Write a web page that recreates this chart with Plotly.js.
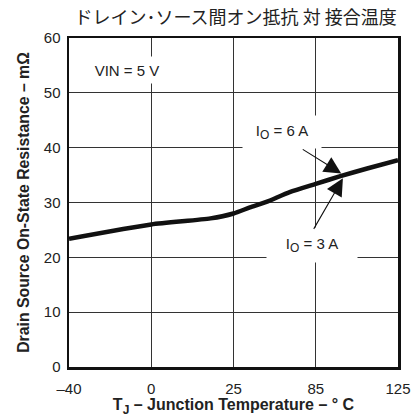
<!DOCTYPE html>
<html><head><meta charset="utf-8">
<script src="https://cdn.plot.ly/plotly-3.0.1.min.js"></script>
<style>html,body{margin:0;padding:0;background:#fff;}#chart{width:417px;height:420px;}</style>
</head><body><div id="chart"></div>
<script>
// Axis tick temperatures (equally spaced on the chart, non-linear scale)
const tickTemps = [-40, 0, 25, 85, 125];
const tickLabels = ['\u201340', '0', '25', '85', '125'];
// Curve: junction temperature (°C) vs on-state resistance (mΩ)
const tempC = [-40, 0, 18, 25, 37, 49, 66, 85, 97, 110, 125];
const resistance = [23.4, 26.0, 27.1, 28.0, 29.1, 30.1, 31.9, 33.4, 34.8, 36.2, 37.7];
const yTicks = [0, 10, 20, 30, 40, 50, 60];

// piecewise mapping of a temperature onto the equally spaced tick positions
function tempToPos(t) {
  for (let i = 0; i < tickTemps.length - 1; i++) {
    const a = tickTemps[i], b = tickTemps[i + 1];
    if (t <= b || i === tickTemps.length - 2) return i + (t - a) / (b - a);
  }
}
const xPos = tempC.map(tempToPos);
const tickPos = tickTemps.map(tempToPos);

const font = 'Liberation Sans, Arial, sans-serif';
const sub = s => '<sub><span style="font-size:12px">' + s + '</span></sub>';
const trace = {
  x: xPos, y: resistance, type: 'scatter', mode: 'lines',
  line: {color: '#111', width: 4.5, shape: 'spline', smoothing: 0.6},
  hoverinfo: 'none'
};
const axisCommon = {
  showline: true, mirror: true, linecolor: '#111', linewidth: 2.5,
  showgrid: true, gridcolor: '#333', gridwidth: 1.2,
  zeroline: false, ticks: '', tickfont: {family: font, size: 15, color: '#222'}
};
const layout = {
  width: 417, height: 420,
  margin: {l: 69, r: 19, t: 38, b: 53},
  paper_bgcolor: '#fff', plot_bgcolor: '#fff',
  showlegend: false,
  title: {text: 'ドレイン･ソース間オン抵抗 対 接合温度', x: 0.565, xanchor: 'center',
          yref: 'container', y: 0.958, yanchor: 'middle',
          font: {family: 'Noto Sans CJK JP, sans-serif', size: 18, color: '#222'}},
  xaxis: Object.assign({}, axisCommon, {
    range: [0, 4], tickmode: 'array', tickvals: tickPos, ticktext: tickLabels, ticklabelstandoff: 6,
    title: {text: '<b>T' + sub('J') + ' \u2013 Junction Temperature \u2013 \u00b0 C</b>', font: {family: font, size: 16, color: '#222'}, standoff: 3}
  }),
  yaxis: Object.assign({}, axisCommon, {
    range: [0, 60], tickmode: 'array', tickvals: yTicks, ticklabelstandoff: 3,
    title: {text: '<b>Drain Source On-State Resistance \u2013 m\u03a9</b>', font: {family: font, size: 15.8, color: '#222'}, standoff: 11}
  }),
  annotations: [
    {x: 0.70, y: 54.1, xref: 'x', yref: 'y', text: 'VIN = 5 V', showarrow: false,
     font: {family: font, size: 15, color: '#222'}, bgcolor: '#fff', width: 80, height: 24},
    {x: 2.59, y: 42.8, xref: 'x', yref: 'y', text: 'I' + sub('O') + ' = 6 A', showarrow: false,
     font: {family: font, size: 15, color: '#222'}, bgcolor: '#fff', width: 76, height: 30},
    {x: 2.95, y: 22.2, xref: 'x', yref: 'y', text: 'I' + sub('O') + ' = 3 A', showarrow: false,
     font: {family: font, size: 15, color: '#222'}, bgcolor: '#fff', width: 88, height: 32},
    {x: 3.31, y: 35.3, xref: 'x', yref: 'y', text: '', showarrow: true, ax: -40, ay: -25,
     arrowhead: 2, arrowsize: 3.1, arrowwidth: 1.1, arrowcolor: '#111'},
    {x: 3.33, y: 34.4, xref: 'x', yref: 'y', text: '', showarrow: true, ax: -30, ay: 52,
     arrowhead: 2, arrowsize: 3.1, arrowwidth: 1.1, arrowcolor: '#111'}
  ]
};
Plotly.newPlot('chart', [trace], layout, {staticPlot: true, displayModeBar: false});
</script></body></html>
